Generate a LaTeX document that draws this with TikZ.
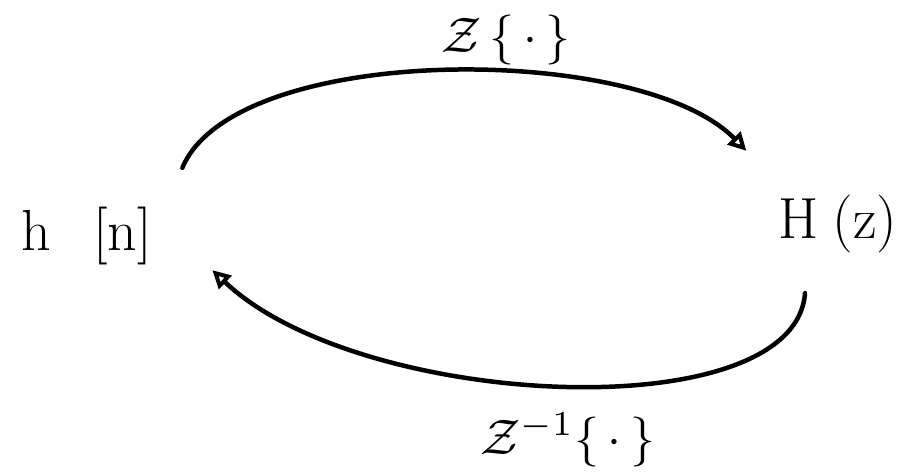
\documentclass[tikz,border=0pt]{standalone}
\usepackage{graphicx}
\usetikzlibrary{arrows.meta}
\begin{document}
\begin{tikzpicture}[x=1pt,y=-1pt,
  lbl/.style={inner sep=0pt,font=\fontsize{58}{58}\selectfont},
  oplbl/.style={inner sep=0pt},
  arc/.style={line width=4.5pt,line cap=round,-{Triangle[open,length=18pt,width=18pt,line width=4pt]}}]
\useasboundingbox (0,0) rectangle (913,476);
\node[lbl] (hn) at (87,236) {h\hspace{42pt}[n]};
\node[lbl] (Hz) at (838,224) {H\hspace{14pt}(z)};
\node[oplbl] (zt) at (506,40) {\scalebox{5}{$\mathcal{Z}\,\{\,\cdot\,\}$}};
\node[oplbl] (izt) at (568,440) {\scalebox{5}{$\mathcal{Z}^{-1}\{\,\cdot\,\}$}};
\draw[arc] ([shift={(30,-39)}]hn.north east) .. controls (235,42) and (640,42) .. ([shift={(-32,-44)}]Hz.north west);
\draw[arc] ([shift={(-33,40)}]Hz.south) .. controls (795,430) and (360,410) .. ([shift={(60,5)}]hn.south east);
\end{tikzpicture}
\end{document}
